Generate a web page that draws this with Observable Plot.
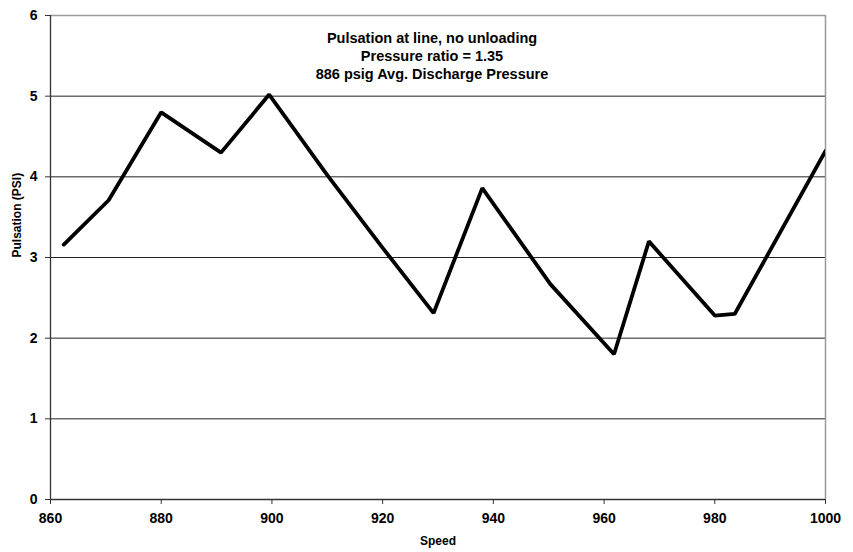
<!DOCTYPE html>
<html>
<head>
<meta charset="utf-8">
<script src="https://cdn.jsdelivr.net/npm/d3@7"></script>
<script src="https://cdn.jsdelivr.net/npm/@observablehq/plot@0.6"></script>
<style>
  html, body { margin: 0; padding: 0; background: #fff; }
  #chart { width: 853px; height: 552px; }
</style>
</head>
<body>
<div id="chart"></div>
<script>
const speed = [862.4, 870.5, 880.0, 890.8, 899.5, 910.0, 920.0, 929.2, 938.0, 950.3, 961.8, 968.1, 980.0, 983.6, 1000.0];
const pulsation = [3.16, 3.71, 4.80, 4.30, 5.02, 4.02, 3.12, 2.31, 3.86, 2.67, 1.80, 3.20, 2.28, 2.30, 4.32];
const xTicks = [860, 880, 900, 920, 940, 960, 980, 1000];
const yTicks = [0, 1, 2, 3, 4, 5, 6];
const gridLevels = [1, 2, 3, 4, 5];
const titleLines = ["Pulsation at line, no unloading", "Pressure ratio = 1.35", "886 psig Avg. Discharge Pressure"];
const xLabel = "Speed";
const yLabel = "Pulsation (PSI)";

const data = speed.map((s, i) => ({speed: s, pulsation: pulsation[i]}));

const chart = Plot.plot({
  width: 853,
  height: 552,
  marginLeft: 50,
  marginRight: 28,
  marginTop: 15,
  marginBottom: 53,
  style: {fontFamily: "'Liberation Sans', Arial, sans-serif", background: "#fff", color: "#000"},
  x: {domain: [860, 1000]},
  y: {domain: [0, 6]},
  marks: [
    Plot.ruleY(gridLevels, {stroke: "#222", strokeWidth: 1}),
    Plot.ruleY([6], {stroke: "#999", strokeWidth: 1.5}),
    Plot.ruleX([1000], {stroke: "#999", strokeWidth: 1.5}),
    Plot.ruleX([860], {stroke: "#333", strokeWidth: 1.3}),
    Plot.ruleY([0], {stroke: "#333", strokeWidth: 1.3}),
    Plot.axisX({ticks: xTicks, tickSize: 5, tickPadding: 9, fontSize: 14, fontWeight: "bold", label: null, tickFormat: d => String(d), stroke: "#333"}),
    Plot.axisY({ticks: yTicks, tickSize: 5, tickPadding: 8, fontSize: 14, fontWeight: "bold", label: null, tickFormat: d => String(d), stroke: "#333"}),
    Plot.line(data, {x: "speed", y: "pulsation", stroke: "#000", strokeWidth: 3.8, strokeLinejoin: "miter", clip: true}),
    Plot.text([titleLines.join("\n")], {frameAnchor: "top", dx: -6, dy: 40, lineAnchor: "middle", lineHeight: 1.25, fontSize: 14.5, fontWeight: "bold", fill: "#000"}),
    Plot.text([xLabel], {frameAnchor: "bottom", dy: 45, fontSize: 12, fontWeight: "bold", fill: "#000"}),
    Plot.text([yLabel], {frameAnchor: "left", dx: -33, rotate: -90, fontSize: 12, fontWeight: "bold", fill: "#000"})
  ]
});
document.getElementById("chart").appendChild(chart);
</script>
</body>
</html>
